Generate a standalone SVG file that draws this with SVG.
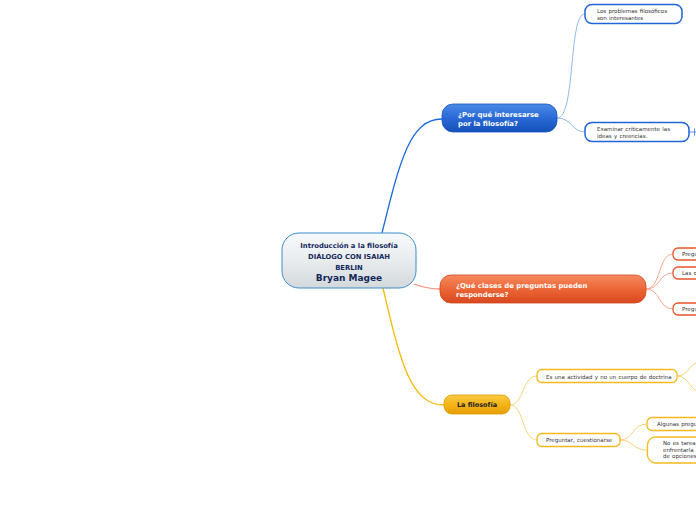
<svg xmlns="http://www.w3.org/2000/svg" width="696" height="520" viewBox="0 0 696 520">
<defs>
<linearGradient id="gC" x1="0" y1="0" x2="0" y2="1"><stop offset="0" stop-color="#f7fafc"/><stop offset="0.5" stop-color="#e8ecef"/><stop offset="1" stop-color="#d3d8db"/></linearGradient>
<linearGradient id="gB" x1="0" y1="0" x2="0" y2="1"><stop offset="0" stop-color="#4a8ae6"/><stop offset="0.5" stop-color="#2a6ad6"/><stop offset="1" stop-color="#1450b8"/></linearGradient>
<linearGradient id="gO" x1="0" y1="0" x2="0" y2="1"><stop offset="0" stop-color="#f58a60"/><stop offset="0.5" stop-color="#ec6636"/><stop offset="1" stop-color="#d8481e"/></linearGradient>
<linearGradient id="gY" x1="0" y1="0" x2="0" y2="1"><stop offset="0" stop-color="#fbcb45"/><stop offset="0.5" stop-color="#f4b418"/><stop offset="1" stop-color="#e69e06"/></linearGradient>
</defs>
<style>
text{font-family:"DejaVu Sans","Verdana",sans-serif}
.ct{font-size:6.8px;font-weight:bold;fill:#14285a;text-anchor:middle}
.ctb{font-size:9px;font-weight:bold;fill:#14285a;text-anchor:middle}
.mt{font-size:6.9px;font-weight:bold;fill:#ffffff}
.yt{font-size:6.5px;font-weight:bold;fill:#222222}
.st{font-size:5.5px;fill:#333333;word-spacing:0.5px}
.sb{fill:#ffffff;stroke:#1f64d8;stroke-width:1.5}
.so{fill:#ffffff;stroke:#e8542a;stroke-width:1.3}
.sy{fill:#ffffff;stroke:#f5b820;stroke-width:1.3}
.c{fill:none}
</style>
<g id="connectors">
<path class="c" d="M382,233 C400,160 410,119 442,119" stroke="#1e6ad8" stroke-width="1.3"/>
<path class="c" d="M414,284 C425,288 430,289 440,289" stroke="#f4907a" stroke-width="1.3"/>
<path class="c" d="M383,288 C400,360 410,405 444,405" stroke="#f5b800" stroke-width="1.3"/>
<path class="c" d="M557,118 C576,118 568,14 585,14" stroke="#90b8f0" stroke-width="1"/>
<path class="c" d="M557,118 C572,118 572,132 585,132" stroke="#90b8f0" stroke-width="1"/>
<path class="c" d="M689,132 L696,132 M694.5,128.5 L694.5,135.5" stroke="#5a90e0" stroke-width="1"/>
<path class="c" d="M646,289 C661,289 658,254 673,254" stroke="#f7a890" stroke-width="1"/>
<path class="c" d="M646,289 C661,289 658,273 673,273" stroke="#f7a890" stroke-width="1"/>
<path class="c" d="M646,289 C661,289 658,309 673,309" stroke="#f7a890" stroke-width="1"/>
<path class="c" d="M510,405 C524,405 522,376 537,376" stroke="#fad27a" stroke-width="1"/>
<path class="c" d="M510,405 C524,405 522,440 537,440" stroke="#fad27a" stroke-width="1"/>
<path class="c" d="M677,376 C690,376 688,362 702,362" stroke="#fad27a" stroke-width="1"/>
<path class="c" d="M677,376 C690,376 690,394 706,394" stroke="#fad27a" stroke-width="1"/>
<path class="c" d="M620,440 C634,440 632,424 647,424" stroke="#fad27a" stroke-width="1"/>
<path class="c" d="M620,440 C634,440 632,450 647,450" stroke="#fad27a" stroke-width="1"/>
</g>
<g id="central">
<rect x="282" y="233" width="134" height="55" rx="17" fill="url(#gC)" stroke="#3a8ccc" stroke-width="1"/>
<text class="ct" x="349" y="248">Introducción a la filosofía</text>
<text class="ct" x="349" y="259">DIÁLOGO CON ISAIAH</text>
<text class="ct" x="349" y="270">BERLIN</text>
<text class="ctb" x="349" y="281">Bryan Magee</text>
</g>
<g id="n-por-que">
<rect x="442" y="104" width="115" height="28" rx="11" fill="url(#gB)" stroke="#1a55c0" stroke-width="0.8"/>
<text class="mt" x="458" y="117">¿Por qué interesarse</text>
<text class="mt" x="458" y="126">por la filosofía?</text>
</g>
<g id="n-problemas">
<rect class="sb" x="585" y="4.5" width="97" height="19" rx="7"/>
<text class="st" x="597" y="12.5">Los problemas filosóficos</text>
<text class="st" x="597" y="19.5">son interesantes</text>
</g>
<g id="n-examinar">
<rect class="sb" x="585" y="122.5" width="104" height="19" rx="7"/>
<text class="st" x="597" y="130.5">Examinar críticamente las</text>
<text class="st" x="597" y="137.5">ideas y creencias.</text>
</g>
<g id="n-que-clases">
<rect x="440" y="275" width="206" height="28" rx="11" fill="url(#gO)" stroke="#d04a20" stroke-width="0.8"/>
<text class="mt" x="456" y="287.5">¿Qué clases de preguntas pueden</text>
<text class="mt" x="456" y="296.5">responderse?</text>
</g>
<g id="n-o1">
<rect class="so" x="673" y="248" width="40" height="12" rx="5"/>
<text class="st" x="682" y="256">Pregu</text>
</g>
<g id="n-o2">
<rect class="so" x="673" y="267" width="40" height="12" rx="5"/>
<text class="st" x="682" y="275">Las q</text>
</g>
<g id="n-o3">
<rect class="so" x="673" y="303" width="40" height="12" rx="5"/>
<text class="st" x="682" y="311">Pregu</text>
</g>
<g id="n-filosofia">
<rect x="444" y="395" width="66" height="19" rx="8" fill="url(#gY)" stroke="#e09a00" stroke-width="0.8"/>
<text class="yt" x="477" y="407" text-anchor="middle">La filosofía</text>
</g>
<g id="n-actividad">
<rect class="sy" x="537" y="369.5" width="140" height="13" rx="5"/>
<text class="st" x="546" y="378.5">Es una actividad y no un cuerpo de doctrina</text>
</g>
<g id="n-preguntar">
<rect class="sy" x="537" y="433.5" width="83" height="13" rx="5"/>
<text class="st" x="546" y="442">Preguntar, cuestionarse</text>
</g>
<g id="n-algunas">
<rect class="sy" x="647" y="417.5" width="60" height="13" rx="5"/>
<text class="st" x="657" y="426">Algunas pregu</text>
</g>
<g id="n-noestarea">
<rect class="sy" x="647.5" y="437" width="60" height="26" rx="8"/>
<text class="st" x="663" y="445">No es tarea</text>
<text class="st" x="663" y="451.5">enfrentarla a</text>
<text class="st" x="663" y="458">de opciones</text>
</g>
</svg>
